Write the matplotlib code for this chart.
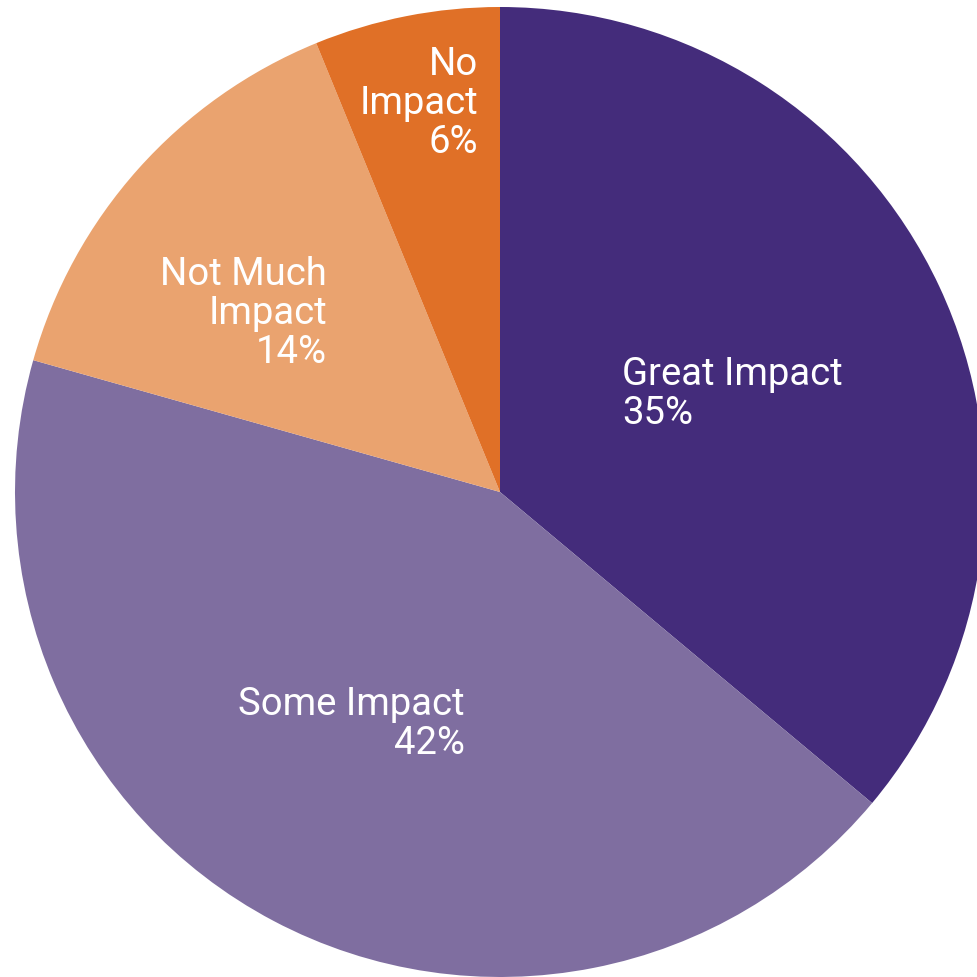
import matplotlib.pyplot as plt

# survey answers, clockwise from 12 o'clock
categories = ["Great Impact", "Some Impact", "Not Much Impact", "No Impact"]
shares = [35, 42, 14, 6]
colors = ["#442c7b", "#7f6ea0", "#eaa36f", "#e07027"]

# label lines (category name broken as drawn) and their anchor in pixels
label_lines = [["Great Impact"], ["Some Impact"], ["Not Much", "Impact"], ["No", "Impact"]]
label_anchor = [(622, 385, "left"), (465, 715, "right"), (327, 285, "right"), (478, 75, "right")]
line_step = 39

W, H = 977, 978
fig = plt.figure(figsize=(W / 100, H / 100), dpi=100)
ax = fig.add_axes([0, 0, 1, 1])

# y axis runs downward, so start at -90 and go "counterclockwise" = clockwise on screen
ax.pie(shares, colors=colors, startangle=-90, counterclock=True,
       center=(500, 493), radius=485, frame=True,
       wedgeprops=dict(linewidth=0))
ax.set_xlim(0, W)
ax.set_ylim(H, 0)
ax.set_aspect("equal")
ax.axis("off")

font = ["Roboto", "DejaVu Sans"]
for lines, (x, y, ha), val in zip(label_lines, label_anchor, shares):
    for i, line in enumerate(lines):
        ax.text(x, y + i * line_step, line, ha=ha, va="baseline", color="white",
                fontsize=27.5, family=font)
    ax.text(x, y + len(lines) * line_step, f"{val}%", ha=ha, va="baseline",
            color="white", fontsize=27.5, family=font)

fig.savefig("out.png", dpi=100)
